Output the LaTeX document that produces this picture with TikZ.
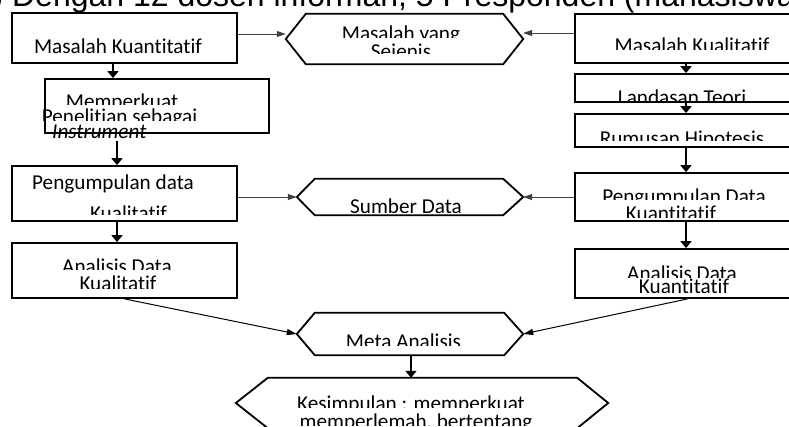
\documentclass[tikz,border=0pt]{standalone}
\usepackage{fontspec}
\setmainfont{Carlito}[Ligatures={NoCommon,NoContextual}]
\newfontfamily\titlefont{Liberation Sans}
\usetikzlibrary{arrows.meta,calc}
\tikzset{
 box/.style={draw=black, line width=1.8pt, rectangle, inner sep=0},
 hexin/.style={rectangle, inner sep=0},
 hexline/.style={draw=black, line width=1.8pt, line join=miter},
 txt/.style={inner sep=0, font=\fontsize{21.2}{25}\selectfont},
 varr/.style={line width=2pt, -{Triangle[length=7pt,width=11pt]}},
 harr/.style={line width=1pt, draw=black!75, -{Triangle[length=9pt,width=6pt]}},
 darr/.style={line width=1pt, -{Triangle[length=10pt,width=6pt]}},
}
% text line clipped below at a given height
\newcommand\tl[6][base]{%
 \begin{scope}\clip (-10,#4-40) rectangle (810,#5);
 \node[txt,anchor=#1] (#2) at (#3,#4) {#6};
 \end{scope}}
% hexagon: name, cx, cy, inner width, height, left depth, right depth
\newcommand\hexa[7]{%
 \node[hexin, minimum width=#4, minimum height=#5] (#1) at (#2,#3) {};
 \coordinate (#1-L) at ($(#1.west)+(-#6,0)$);
 \coordinate (#1-R) at ($(#1.east)+(#7,0)$);
 \draw[hexline] (#1.north west) -- (#1.north east) -- (#1-R) -- (#1.south east)
   -- (#1.south west) -- (#1-L) -- cycle;}
\begin{document}
\begin{tikzpicture}[x=1pt,y=-1pt]
\useasboundingbox (0,0) rectangle (789,426);
\clip (0,0) rectangle (789,426);

% title (cut off at the top)
\node[anchor=base west, inner sep=0, font=\titlefont\fontsize{32}{38}\selectfont]
  (title) at (-7.6,6) {) Dengan 12 dosen informan, 5 Presponden (mahasiswa};

% boxes
\node[box, minimum width=225, minimum height=50] (b1) at (124.5,38) {};
\node[box, minimum width=224, minimum height=54] (b2) at (157,106) {};
\node[box, minimum width=225, minimum height=55] (p1) at (124.5,193.5) {};
\node[box, minimum width=225, minimum height=55] (a1) at (124.5,270.5) {};
\node[box, minimum width=225, minimum height=49] (b5) at (687.5,38.5) {};
\node[box, minimum width=225, minimum height=28] (b6) at (687.5,88) {};
\node[box, minimum width=225, minimum height=33] (b7) at (687.5,130.5) {};
\node[box, minimum width=225, minimum height=48] (p2) at (687.5,197) {};
\node[box, minimum width=225, minimum height=49] (a2) at (687.5,273.5) {};

% hexagons
\hexa{h1}{404.5}{39}{197}{50}{20}{20}
\hexa{sd}{409}{197}{188}{36}{18}{20}
\hexa{ma}{409.5}{334}{189}{42}{18}{19}
\hexa{ks}{422.5}{403}{309}{50}{32}{31}

% texts
\tl{t1}{118}{53}{70}{Masalah Kuantitatif}
\tl{t2}{401}{40}{37.5}{Masalah yang}
\tl{t3}{401}{58}{53}{Sejenis}
\tl{t4}{692}{52}{49.5}{Masalah Kualitatif}
\tl{t5}{682}{104}{100.5}{Landasan Teori}
\tl{t6}{682}{145}{140}{Rumusan Hipotesis}
\tl{t7}{122}{108}{104}{Memperkuat}
\tl{t8}{119.5}{123}{120}{Penelitian sebagai}
\tl[base west]{t9}{52}{138}{150}{\itshape Instrument}
\tl[base west]{t10}{32}{189}{200}{Pengumpulan data}
\tl{t11}{128.5}{220}{214}{Kualitatif}
\tl{t12}{406}{213}{212}{Sumber Data}
\tl{t13}{684}{203}{199}{Pengumpulan Data}
\tl{t14}{671}{220}{217.5}{Kuantitatif}
\tl{t15}{117}{273}{269.5}{Analisis Data}
\tl{t16}{118}{290}{288}{Kualitatif}
\tl{t17}{682}{280}{277}{Analisis Data}
\tl{t18}{684}{293}{305}{Kuantitatif}
\tl{t19}{403.5}{348}{345}{Meta Analisis}
\tl{t20}{411}{410}{407}{Kesimpulan : memperkuat}
\tl{t21}{416}{428}{425}{memperlemah, bertentang}

% vertical connectors
\coordinate (xa) at (113,0);
\coordinate (xb) at (117,0);
\coordinate (xr) at (686,0);
\coordinate (xm) at (411,0);
\coordinate (b2s) at ([yshift=-7pt]b2.south);
\draw[varr] (b1.south -| xa) -- (b2.north -| xa);
\draw[varr] (b2s -| xb) -- (p1.north -| xb);
\draw[varr] (p1.south -| xb) -- (a1.north -| xb);
\draw[varr] (b5.south -| xr) -- (b6.north -| xr);
\draw[varr] (b6.south -| xr) -- (b7.north -| xr);
\draw[varr] (b7.south -| xr) -- (p2.north -| xr);
\draw[varr] (p2.south -| xr) -- (a2.north -| xr);
\draw[varr] (ma.south -| xm) -- (ks.north -| xm);

% horizontal connectors
\coordinate (h1a) at ([yshift=5pt]h1-L);
\coordinate (h1b) at ([yshift=6pt]h1-R);
\draw[harr] (b1.east |- h1a) -- (h1a);
\draw[harr] (b5.west |- h1b) -- (h1b);
\draw[harr] (p1.east |- sd-L) -- (sd-L);
\draw[harr] (p2.west |- sd-R) -- (sd-R);

% diagonal connectors
\draw[darr] (a1.south) -- (ma-L);
\draw[darr] (a2.south) -- (ma-R);
\end{tikzpicture}
\end{document}
